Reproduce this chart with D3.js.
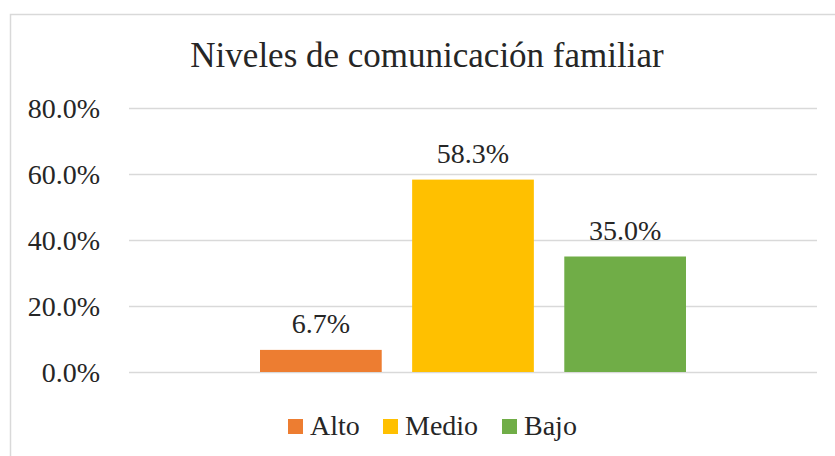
<!DOCTYPE html>
<html>
<head>
<meta charset="utf-8">
<script src="https://cdn.jsdelivr.net/npm/d3@7"></script>
<style>
  html, body { margin: 0; padding: 0; background: #fff; }
  svg text { font-family: "Liberation Serif", "Times New Roman", serif; fill: #262626; }
</style>
</head>
<body>
<div id="chart"></div>
<script>
// Niveles de comunicación familiar — single-category clustered bars, Excel style

var title = "Niveles de comunicación familiar";
var series = ["Alto", "Medio", "Bajo"];
var values = [0.067, 0.583, 0.35];
var colors = ["#ED7D31", "#FFC000", "#70AD47"];
var yTicks = [0, 0.2, 0.4, 0.6, 0.8];

var W = 835, H = 456;
var plot = { left: 129, right: 817, top: 108, bottom: 372 };

var svg = d3.select("#chart").append("svg")
    .attr("width", W)
    .attr("height", H);

// chart frame
svg.append("rect")
    .attr("x", 10.5).attr("y", 14.5)
    .attr("width", 840).attr("height", 460)
    .attr("fill", "#fff")
    .attr("stroke", "#D9D9D9")
    .attr("stroke-width", 1.5);

var y = d3.scaleLinear().domain([0, 0.8]).range([plot.bottom, plot.top]);

// one category, three series clustered in the middle
var x = d3.scaleBand().domain(series).range([260, 686]).paddingInner(0.2);

// Grid
svg.append("g")
    .attr("class", "grid")
    .attr("transform", "translate(" + plot.left + ",0)")
    .call(d3.axisLeft(y).tickValues(yTicks).tickSize(-(plot.right - plot.left)).tickFormat(""))
    .call(function (g) { g.select(".domain").remove(); })
    .selectAll("line")
    .attr("stroke", "#D9D9D9")
    .attr("stroke-width", 1.5);

// Y axis labels
svg.append("g")
    .attr("transform", "translate(100,0)")
    .call(d3.axisLeft(y).tickValues(yTicks).tickSize(0).tickPadding(0)
        .tickFormat(function (d) { return (d * 100).toFixed(1) + "%"; }))
    .call(function (g) { g.select(".domain").remove(); })
    .selectAll("text")
    .attr("font-size", 28)
    .attr("dy", "0.34em")
    .attr("fill", "#262626");

// Bars
svg.selectAll(".bar")
    .data(series)
    .enter().append("rect")
    .attr("class", "bar")
    .attr("x", function (d) { return x(d); })
    .attr("width", x.bandwidth())
    .attr("y", function (d, i) { return y(values[i]); })
    .attr("height", function (d, i) { return y(0) - y(values[i]); })
    .attr("fill", function (d, i) { return colors[i]; });

// Data labels
svg.selectAll(".lbl")
    .data(series)
    .enter().append("text")
    .attr("class", "lbl")
    .attr("x", function (d) { return x(d) + x.bandwidth() / 2; })
    .attr("y", function (d, i) { return y(values[i]) - 17; })
    .attr("text-anchor", "middle")
    .attr("font-size", 28)
    .text(function (d, i) { return (values[i] * 100).toFixed(1) + "%"; });

// Title
svg.append("text")
    .attr("x", 427)
    .attr("y", 67)
    .attr("text-anchor", "middle")
    .attr("font-size", 35)
    .text(title);

// Legend
var legendX = [288, 383, 502];
var legend = svg.selectAll(".legend")
    .data(series)
    .enter().append("g")
    .attr("class", "legend")
    .attr("transform", function (d, i) { return "translate(" + legendX[i] + ",419)"; });

legend.append("rect")
    .attr("width", 15).attr("height", 15)
    .attr("fill", function (d, i) { return colors[i]; });

legend.append("text")
    .attr("x", 22)
    .attr("y", 16)
    .attr("font-size", 28)
    .text(function (d) { return d; });
</script>
</body>
</html>
